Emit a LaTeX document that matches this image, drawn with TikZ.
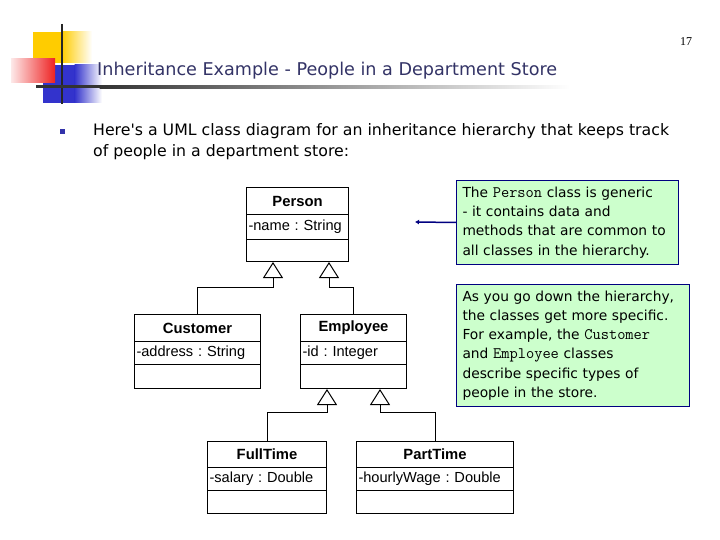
\documentclass[tikz,border=0pt]{standalone}
\usepackage{fontspec}
\setmainfont{Liberation Sans}
\newfontfamily\tfont{DejaVu Sans}
\newfontfamily\pnfont{Liberation Serif}
\usetikzlibrary{arrows.meta,calc}
\definecolor{notefill}{HTML}{CCFFCC}
\definecolor{navyc}{HTML}{000080}
\definecolor{titlec}{HTML}{333366}
\definecolor{bulletc}{HTML}{3333AA}
\definecolor{logoy}{HTML}{FFCC00}
\definecolor{logor}{HTML}{EE2222}
\definecolor{logob}{HTML}{3333CC}
\newcommand{\cn}[1]{{\ttfamily\fontsize{16}{15}\selectfont #1}}
\frenchspacing
\begin{document}
\begin{tikzpicture}[x=1pt,y=-1pt,
  cbox/.style={draw,line width=1pt,inner sep=0pt,anchor=north west},
  cname/.style={cbox,font=\frenchspacing\fontsize{14.8}{16}\selectfont\bfseries},
  cattr/.style={cbox,font=\frenchspacing\fontsize{14.6}{16}\selectfont,inner xsep=2pt,align=left},
  inh/.style={line width=1pt,-{Triangle[open,length=16pt,width=20pt]}},
  note/.style={draw=navyc,line width=1pt,fill=notefill,anchor=north west,inner xsep=6pt,align=left,
    font=\frenchspacing\tfont\fontsize{13.8}{19.3}\selectfont},
]
\useasboundingbox (0,0) rectangle (720,540);
\fill[white] (0,0) rectangle (720,540);
% logo
\fill[logoy] (33,32) rectangle (62,63);
\shade[left color=logoy,right color=white] (61.5,32) rectangle (92,63);
\fill[logob] (43,65) rectangle (75,103);
\shade[left color=logob,right color=white] (74.5,65) rectangle (102,103);
\shade[left color=logor!10,right color=logor] (11,59) rectangle (55,83);
\draw[line width=2pt,black!85] (62,24) -- (62,104);
\fill[black!80] (36,85.5) rectangle (100,88.5);
\shade[left color=black!80,right color=white] (99.5,85.5) rectangle (570,88.5);
% title and page number
\node[anchor=base west,inner sep=0pt,text=titlec,font=\tfont\fontsize{17.6}{20}\selectfont] (title) at (97,76) {Inheritance Example - People in a Department Store};
\node[anchor=base,inner sep=0pt,font=\pnfont\fontsize{12}{14}\selectfont] (pnum) at (686,46) {17};
% bullet
\fill[bulletc] (60,129) rectangle (65,134);
\node[anchor=base west,inner sep=0pt,font=\frenchspacing\tfont\fontsize{15.75}{18}\selectfont] (b1) at (93,136) {Here\textquotesingle s a UML class diagram for an inheritance hierarchy that keeps track};
\node[anchor=base west,inner sep=0pt,font=\frenchspacing\tfont\fontsize{15.75}{18}\selectfont] (b2) at (93,157) {of people in a department store:};
% classes
\node[cname,minimum width=102pt,minimum height=27pt] (person) at (246,187) {Person};
\node[cattr,minimum width=102pt,minimum height=25pt,text width=98pt] (persona) at (246,214) {-name : String};
\node[cbox,minimum width=102pt,minimum height=22pt] (personm) at (246,239) {};
\node[cname,minimum width=126pt,minimum height=27pt] (cust) at (134,314) {Customer};
\node[cattr,minimum width=126pt,minimum height=23pt,text width=122pt] (custa) at (134,341) {-address : String};
\node[cbox,minimum width=126pt,minimum height=24pt] (custm) at (134,364) {};
\node[cname,minimum width=106pt,minimum height=27pt] (emp) at (300,314) {Employee};
\node[cattr,minimum width=106pt,minimum height=23pt,text width=102pt] (empa) at (300,341) {-id : Integer};
\node[cbox,minimum width=106pt,minimum height=24pt] (empm) at (300,364) {};
\node[cname,minimum width=119pt,minimum height=26pt] (ft) at (207,441) {FullTime};
\node[cattr,minimum width=119pt,minimum height=23pt,text width=115pt] (fta) at (207,467) {-salary : Double};
\node[cbox,minimum width=119pt,minimum height=23pt] (ftm) at (207,490) {};
\node[cname,minimum width=157pt,minimum height=26pt] (pt) at (356,441) {PartTime};
\node[cattr,minimum width=157pt,minimum height=23pt,text width=153pt] (pta) at (356,467) {-hourlyWage : Double};
\node[cbox,minimum width=157pt,minimum height=23pt] (ptm) at (356,490) {};
% inheritance
\coordinate (j1) at (273,287);
\coordinate (j2) at (329,287);
\coordinate (j3) at (327,412);
\coordinate (j4) at (380,412);
\draw[inh] (cust.north) |- (j1) -- (j1 |- personm.south);
\draw[inh] (emp.north) |- (j2) -- (j2 |- personm.south);
\draw[inh] (ft.north) |- (j3) -- (j3 |- empm.south);
\draw[inh] (pt.north) |- (j4) -- (j4 |- empm.south);
% notes
\node[note,minimum width=222pt,minimum height=84pt,text width=210pt] (note1) at (456,180)
 {The \cn{Person} class is generic\\- it contains data and\\methods that are common to\\all classes in the hierarchy.};
\coordinate (arend) at (415,222);
\draw[navyc,line width=1.5pt,-{Latex[length=4pt,width=5pt]}] (note1.west) -- (arend);
\node[note,minimum width=233pt,minimum height=122pt,text width=221pt] (note2) at (456,284)
 {As you go down the hierarchy,\\the classes get more specific.\\For example, the \cn{Customer}\\and \cn{Employee} classes\\describe specific types of\\people in the store.};
\end{tikzpicture}
\end{document}
